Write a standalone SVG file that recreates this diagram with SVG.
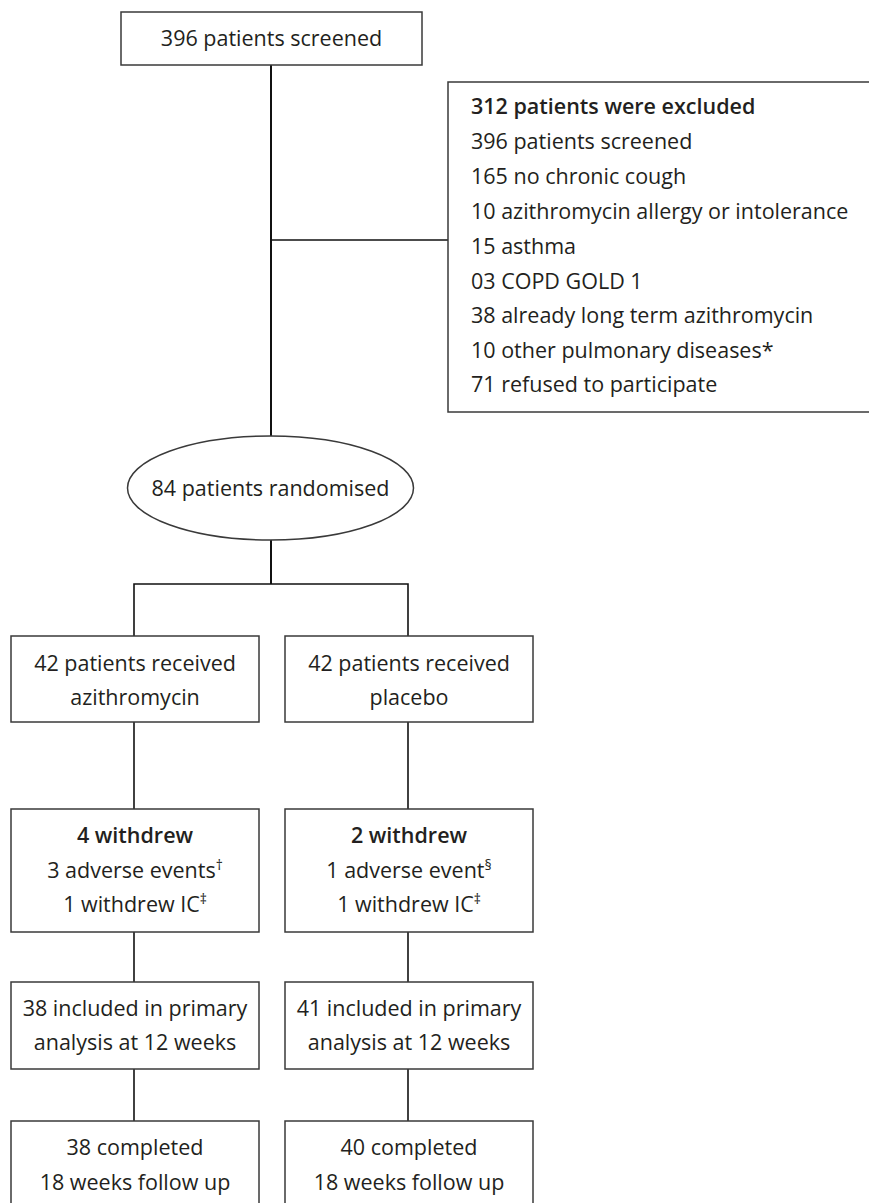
<svg xmlns="http://www.w3.org/2000/svg" width="869" height="1203" viewBox="0 0 869 1203">
<style>
.box{fill:#fff;stroke:#3a3a3a;stroke-width:1.5}
.t{font-family:"Open Sans","Noto Sans",sans-serif;font-size:21.5px;fill:#231f20}
.c{text-anchor:middle}
.b{font-weight:600}
.sup{font-size:14px}
.ln{stroke:#111;stroke-width:1.6;fill:none}
.trunk{stroke:#111;stroke-width:2;fill:none}
</style>
<rect width="869" height="1203" fill="#fff"/>
<g id="connectors">
<line class="trunk" x1="271" y1="65" x2="271" y2="436"/>
<line class="ln" x1="271" y1="240" x2="448" y2="240"/>
<line class="trunk" x1="271" y1="540" x2="271" y2="584"/>
<polyline class="ln" points="134,636 134,584 408,584 408,636"/>
<line class="ln" x1="134" y1="722" x2="134" y2="809"/>
<line class="ln" x1="408" y1="722" x2="408" y2="809"/>
<line class="ln" x1="134" y1="932" x2="134" y2="982"/>
<line class="ln" x1="408" y1="932" x2="408" y2="982"/>
<line class="ln" x1="134" y1="1069" x2="134" y2="1121"/>
<line class="ln" x1="408" y1="1069" x2="408" y2="1121"/>
</g>
<g id="screened">
<rect class="box" x="121" y="12" width="301" height="53"/>
<text class="t c" x="271.5" y="46">396 patients screened</text>
</g>
<g id="excluded">
<rect class="box" x="448" y="82" width="430" height="330"/>
<text class="t" x="471" y="114"><tspan class="b">312 patients were excluded</tspan></text>
<text class="t" x="471" y="149">396 patients screened</text>
<text class="t" x="471" y="184">165 no chronic cough</text>
<text class="t" x="471" y="219">10 azithromycin allergy or intolerance</text>
<text class="t" x="471" y="254">15 asthma</text>
<text class="t" x="471" y="289">03 COPD GOLD 1</text>
<text class="t" x="471" y="323">38 already long term azithromycin</text>
<text class="t" x="471" y="358">10 other pulmonary diseases*</text>
<text class="t" x="471" y="392">71 refused to participate</text>
</g>
<g id="randomised">
<ellipse class="box" cx="270.5" cy="488" rx="143" ry="52"/>
<text class="t c" x="270.5" y="496">84 patients randomised</text>
</g>
<g id="azithro">
<rect class="box" x="11" y="636" width="248" height="86"/>
<text class="t c" x="135" y="671">42 patients received</text>
<text class="t c" x="135" y="705">azithromycin</text>
</g>
<g id="placebo">
<rect class="box" x="285" y="636" width="248" height="86"/>
<text class="t c" x="409" y="671">42 patients received</text>
<text class="t c" x="409" y="705">placebo</text>
</g>
<g id="withdrew-azithro">
<rect class="box" x="11" y="809" width="248" height="123"/>
<text class="t c b" x="135" y="843">4 withdrew</text>
<text class="t c" x="135" y="878">3 adverse events<tspan class="sup" dy="-8">†</tspan></text>
<text class="t c" x="135" y="912">1 withdrew IC<tspan class="sup" dy="-8">‡</tspan></text>
</g>
<g id="withdrew-placebo">
<rect class="box" x="285" y="809" width="248" height="123"/>
<text class="t c b" x="409" y="843">2 withdrew</text>
<text class="t c" x="409" y="878">1 adverse event<tspan class="sup" dy="-8">§</tspan></text>
<text class="t c" x="409" y="912">1 withdrew IC<tspan class="sup" dy="-8">‡</tspan></text>
</g>
<g id="primary-azithro">
<rect class="box" x="11" y="982" width="248" height="87"/>
<text class="t c" x="135" y="1016">38 included in primary</text>
<text class="t c" x="135" y="1050">analysis at 12 weeks</text>
</g>
<g id="primary-placebo">
<rect class="box" x="285" y="982" width="248" height="87"/>
<text class="t c" x="409" y="1016">41 included in primary</text>
<text class="t c" x="409" y="1050">analysis at 12 weeks</text>
</g>
<g id="completed-azithro">
<rect class="box" x="11" y="1121" width="248" height="90"/>
<text class="t c" x="135" y="1155">38 completed</text>
<text class="t c" x="135" y="1190">18 weeks follow up</text>
</g>
<g id="completed-placebo">
<rect class="box" x="285" y="1121" width="248" height="90"/>
<text class="t c" x="409" y="1155">40 completed</text>
<text class="t c" x="409" y="1190">18 weeks follow up</text>
</g>
</svg>
